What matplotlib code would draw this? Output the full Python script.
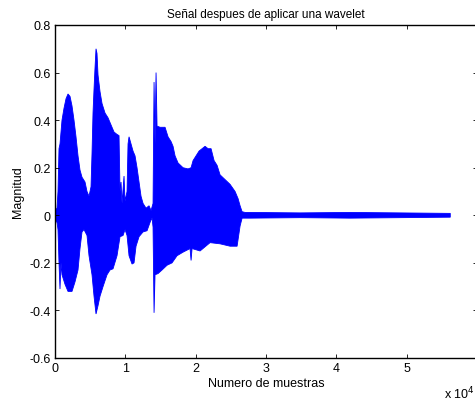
import numpy as np
import matplotlib
matplotlib.use("Agg")
import matplotlib.pyplot as plt

plt.rcParams['font.family'] = ['Liberation Sans', 'DejaVu Sans']

# envelope of the wavelet-filtered signal (sample index, magnitude)
upper_x = [0, 285, 427, 569, 711, 996, 1280, 1565, 1849, 2134, 2418, 2703, 2987,
           3272, 3556, 3841, 4267, 4552, 4836, 5121, 5263, 5405, 5548, 5690, 5832,
           5974, 6117, 6401, 6686, 7112, 7539, 7966, 8393, 8819, 9104, 9246, 9388,
           9531, 9815, 9957, 10242, 10384, 10526, 10811, 11095, 11380, 11664, 11949,
           12233, 12518, 12945, 13371, 13656, 13940, 14083, 14225, 14367, 14509,
           14936, 15647, 16074, 16501, 16785, 17070, 17496, 18208, 18919, 19346,
           19630, 20057, 20484, 20911, 21337, 21764, 22191, 22618, 23045, 23471,
           24183, 24894, 25605, 26032, 26316, 26601, 27028, 27739, 34851, 41964,
           49076, 56200]
upper_y = [0.02, 0.03, 0.10, 0.28, 0.30, 0.40, 0.45, 0.49, 0.51, 0.50, 0.46, 0.40,
           0.33, 0.25, 0.19, 0.16, 0.14, 0.10, 0.08, 0.12, 0.26, 0.43, 0.53, 0.62,
           0.70, 0.68, 0.59, 0.52, 0.47, 0.43, 0.41, 0.38, 0.35, 0.34, 0.335, 0.10,
           0.14, 0.05, 0.165, 0.06, 0.10, 0.30, 0.33, 0.30, 0.27, 0.25, 0.20, 0.14,
           0.08, 0.05, 0.03, 0.04, 0.02, 0.05, 0.56, 0.30, 0.60, 0.375, 0.37, 0.37,
           0.33, 0.31, 0.29, 0.25, 0.22, 0.20, 0.195, 0.20, 0.23, 0.25, 0.27, 0.28,
           0.29, 0.28, 0.28, 0.23, 0.21, 0.17, 0.15, 0.13, 0.10, 0.07, 0.04, 0.015,
           0.012, 0.012, 0.010, 0.012, 0.010, 0.008]

lower_x = [0, 285, 427, 569, 711, 854, 996, 1422, 1849, 2418, 2845, 3272, 3556,
           3841, 4125, 4552, 4836, 5263, 5548, 5832, 6117, 6401, 6828, 7397, 7824,
           8250, 8819, 9246, 9673, 9957, 10242, 10526, 10953, 11238, 11522, 11949,
           12518, 13087, 13514, 13798, 13940, 14083, 14225, 14651, 15220, 15932,
           16643, 17354, 18208, 19203, 19346, 19488, 20626, 22049, 23471, 24894,
           25890, 26316, 26601, 27739, 34851, 41964, 49076, 56200]
lower_y = [-0.02, -0.03, -0.06, -0.20, -0.31, -0.20, -0.25, -0.29, -0.32, -0.32,
           -0.28, -0.23, -0.14, -0.07, -0.06, -0.085, -0.17, -0.25, -0.34, -0.415,
           -0.38, -0.34, -0.30, -0.25, -0.23, -0.225, -0.17, -0.09, -0.085, -0.06,
           -0.085, -0.17, -0.205, -0.20, -0.13, -0.09, -0.07, -0.065, -0.03, -0.01,
           -0.05, -0.41, -0.25, -0.245, -0.23, -0.21, -0.20, -0.17, -0.155, -0.14,
           -0.19, -0.14, -0.15, -0.115, -0.12, -0.13, -0.13, -0.045, -0.012, -0.012,
           -0.010, -0.012, -0.010, -0.008]

x_ticks = [0, 10000, 20000, 30000, 40000, 50000, 60000]
x_labels = ['0', '1', '2', '3', '4', '5', '']
y_ticks = [-0.6, -0.4, -0.2, 0, 0.2, 0.4, 0.6, 0.8]
y_labels = ['-0.6', '-0.4', '-0.2', '0', '0.2', '0.4', '0.6', '0.8']

fig = plt.figure(figsize=(4.75, 4.02), dpi=100)
ax = fig.add_axes([55 / 475, 1 - 359 / 402, 422 / 475, 333 / 402])

poly_x = np.concatenate([upper_x, lower_x[::-1]])
poly_y = np.concatenate([upper_y, lower_y[::-1]])
ax.fill(poly_x, poly_y, color='#0000ff', linewidth=0.6, edgecolor='#0000ff')

ax.set_xlim(0, 60000)
ax.set_ylim(-0.6, 0.8)
ax.set_xticks(x_ticks)
ax.set_xticklabels(x_labels)
ax.set_yticks(y_ticks)
ax.set_yticklabels(y_labels)
ax.tick_params(direction='in', length=3, width=0.6, labelsize=9,
               top=True, right=True, pad=3)
for s in ax.spines.values():
    s.set_linewidth(1.0)

ax.set_title('Señal despues de aplicar una wavelet', fontsize=8.5, pad=6)
ax.set_xlabel('Numero de muestras', fontsize=9, labelpad=2)
ax.set_ylabel('Magnitud', fontsize=9, labelpad=4)
fig.text(444 / 475, 1 - 394 / 402, 'x 10$^{4}$', fontsize=9, va='center')

fig.savefig('out.png', dpi=100)
